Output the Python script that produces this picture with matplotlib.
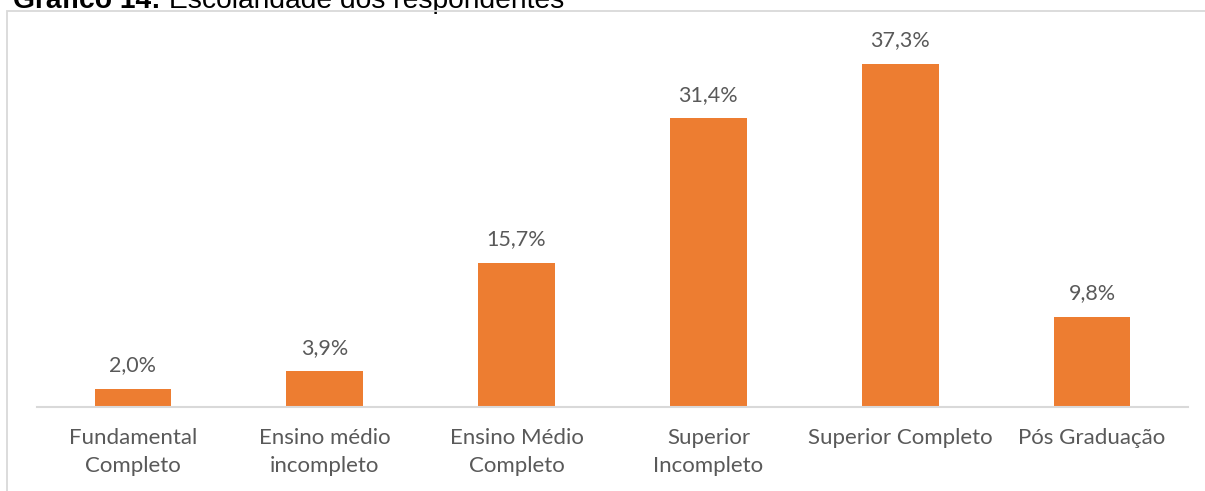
import matplotlib
matplotlib.use("Agg")
import matplotlib.pyplot as plt
from matplotlib.patches import Rectangle

# Escolaridade dos respondentes (%)
categorias = ["Fundamental\nCompleto", "Ensino médio\nincompleto", "Ensino Médio\nCompleto",
              "Superior\nIncompleto", "Superior Completo", "Pós Graduação"]
valores = [2.0, 3.9, 15.7, 31.4, 37.3, 9.8]

laranja = "#ED7D31"
cinza_txt = "#595959"
cinza_linha = "#D9D9D9"

W, H = 1205, 491
fig = plt.figure(figsize=(W / 100, H / 100), dpi=100)

# chart frame (cut off at right/bottom)
fig.patches.append(Rectangle((7.5 / W, -0.2), 1.5, 1.2 - 11 / H, transform=fig.transFigure,
                             fill=False, edgecolor=cinza_linha, linewidth=1.3))

ax = fig.add_axes([37 / W, 1 - 407 / H, (1188 - 37) / W, 368 / H])

# title, partially cropped at the top like the original
t1 = fig.text(13 / W, 1 - 7.5 / H, "Gráfico 14:", fontsize=20.3, fontweight="bold",
              family="Liberation Sans", va="baseline", ha="left")
ax.annotate(" Escolaridade dos respondentes", xy=(1, 0), xycoords=t1, fontsize=20.3,
            family="Liberation Sans", va="bottom", ha="left", annotation_clip=False)

x = range(len(valores))
bars = ax.bar(x, valores, width=0.4, color=laranja)
ax.set_xlim(-0.5, len(valores) - 0.5)
ax.set_ylim(0, 40)

for b, v in zip(bars, valores):
    ax.annotate(f"{v:.1f}%".replace(".", ","), (b.get_x() + b.get_width() / 2, v),
                xytext=(0, 12.5), textcoords="offset points", ha="center", va="baseline",
                fontsize=15.5, family="Lato", color=cinza_txt)

ax.set_xticks(list(x))
ax.set_xticklabels(categorias, fontsize=16, family="Lato", color=cinza_txt, linespacing=1.5)
ax.tick_params(axis="x", length=0, pad=15)
ax.set_yticks([])
for s in ["top", "right", "left"]:
    ax.spines[s].set_visible(False)
ax.spines["bottom"].set_color(cinza_linha)
ax.spines["bottom"].set_linewidth(1.5)
ax.patch.set_alpha(0)

fig.savefig("out.png", dpi=100)
